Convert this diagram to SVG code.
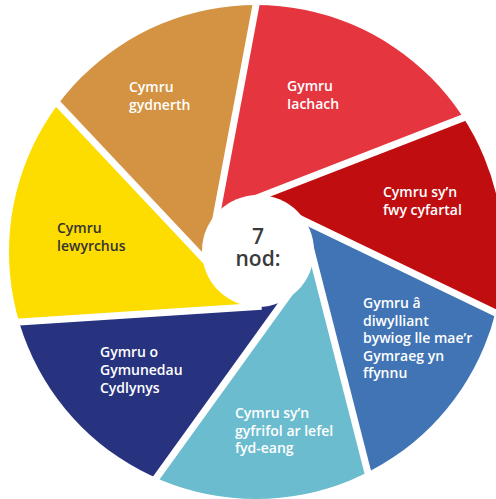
<svg xmlns="http://www.w3.org/2000/svg" width="496" height="499" viewBox="0 0 496 499">
<style>
.lbl{font-family:"Open Sans","Liberation Sans",sans-serif;font-size:14px;font-weight:600;fill:#fff}
.dark{fill:#333}
.gap{stroke:#fff;stroke-width:7;fill:none}
.ctr{font-family:"Open Sans","Liberation Sans",sans-serif;font-size:21px;font-weight:600;fill:#3a3a3a;text-anchor:middle}
</style>
<defs><clipPath id="disk"><circle cx="256" cy="252" r="247"/></clipPath></defs>
<rect width="496" height="499" fill="#fff"/>
<g clip-path="url(#disk)">
<g id="blade-red"><polygon fill="#E5353F" points="262.6,-30 520,-30 520,95.8 240.1,204.6 258,251 211.4,242.3"/></g>
<g id="blade-darkred"><polygon fill="#C00D10" points="520,95.8 520,324.6 278.6,208.3 258,251 240.1,204.6"/></g>
<g id="blade-blue"><polygon fill="#4074B4" points="520,324.6 520,520 380,520 307.9,238.2 258,251 278.6,208.3"/></g>
<g id="blade-lightblue"><polygon fill="#6BBCCE" points="380,520 126,520 298.7,280.4 258,251 307.9,238.2"/></g>
<g id="blade-navy"><polygon fill="#28337F" points="126,520 -20,520 -20,324.6 261.6,306.3 258,251 298.7,280.4"/></g>
<g id="blade-yellow"><polygon fill="#FDDC00" points="-20,324.6 -20,21 225.2,281.6 258,251 261.6,306.3"/></g>
<g id="blade-orange"><polygon fill="#D39342" points="-20,21 -20,-30 262.6,-30 211.4,242.3 258,251 225.2,281.6"/></g>
</g>
<g id="gaps" class="gap">
<line x1="262.6" y1="-30" x2="211.4" y2="242.3"/>
<line x1="520" y1="95.8" x2="240.1" y2="204.6"/>
<line x1="520" y1="324.6" x2="278.6" y2="208.3"/>
<line x1="380" y1="520" x2="307.9" y2="238.2"/>
<line x1="126" y1="520" x2="298.7" y2="280.4"/>
<line x1="-20" y1="324.6" x2="261.6" y2="306.3"/>
<line x1="-20" y1="21" x2="225.2" y2="281.6"/>
</g>
<g id="centre">
<circle cx="258" cy="251" r="56" fill="#fff"/>
<text class="ctr" x="258" y="244">7</text>
<text class="ctr" x="258" y="266">nod:</text>
</g>
<g id="labels" class="lbl">
<text x="129" y="92">Cymru</text><text x="129" y="110">gydnerth</text>
<text x="287" y="91">Gymru</text><text x="287" y="109">Iachach</text>
<text x="383" y="197">Cymru sy’n</text><text x="383" y="215">fwy cyfartal</text>
<text class="dark" x="57" y="233">Cymru</text><text class="dark" x="57" y="251">lewyrchus</text>
<text x="100" y="357">Gymru o</text><text x="100" y="375">Gymunedau</text><text x="100" y="393">Cydlynys</text>
<text x="363" y="308">Gymru â</text><text x="363" y="325.5">diwylliant</text><text x="363" y="343">bywiog lle mae’r</text><text x="363" y="360.5">Gymraeg yn</text><text x="363" y="378">ffynnu</text>
<text x="235" y="418">Cymru sy’n</text><text x="235" y="435.5">gyfrifol ar lefel</text><text x="235" y="453">fyd-eang</text>
</g>
</svg>
